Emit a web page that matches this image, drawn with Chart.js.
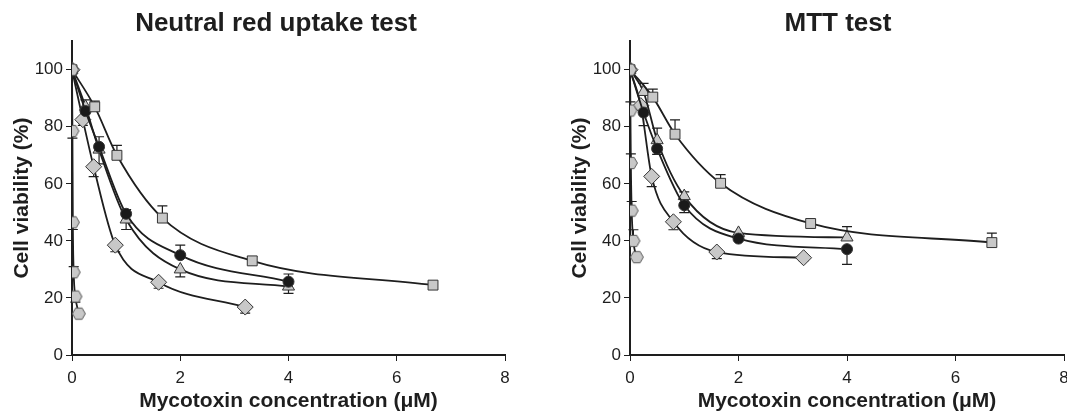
<!DOCTYPE html>
<html>
<head>
<meta charset="utf-8">
<script src="https://cdn.jsdelivr.net/npm/chart.js@4.4.1/dist/chart.umd.min.js"></script>
<style>
  html, body { margin: 0; padding: 0; background: #fff; overflow: hidden; }
  #page { position: relative; width: 1067px; height: 414px; overflow: hidden; }
  .box { position: absolute; top: 0; height: 414px; }
  #boxNR { left: 0; width: 552px; }
  #boxMTT { left: 558px; width: 560px; }
</style>
</head>
<body>
<div id="page">
  <div class="box" id="boxNR"><canvas id="chartNR" width="552" height="414"></canvas></div>
  <div class="box" id="boxMTT"><canvas id="chartMTT" width="560" height="414"></canvas></div>
</div>
<script>
// concentrations (µM) per mycotoxin
const hexConc = [0, 0.0078, 0.0156, 0.031, 0.0625, 0.125];
const sqConc = [0, 0.42, 0.83, 1.67, 3.33, 6.67];
const rdConc = [0, 0.25, 0.5, 1, 2, 4];
const dmConc = [0, 0.2, 0.4, 0.8, 1.6, 3.2];

// Neutral red uptake test, viability (%) and error (+ up, - down)
const nrHex = [100, 78.5, 46.5, 29, 20.5, 14.5];
const nrHexErr = [0, -2.5, -2.5, 2, -2, 0];
const nrSq = [100, 87, 70, 48, 33, 24.5];
const nrSqErr = [0, 2, 3.5, 4.3, 1.5, 0];
const nrCirc = [100, 85.5, 73, 49.5, 35, 25.7];
const nrCircErr = [0, 0, 3.5, 1.5, 3.5, 2.7];
const nrTri = [100, 87, 72, 47.5, 30, 24];
const nrTriErr = [0, 2.4, -5, -3.5, -2.6, -2.4];
const nrDia = [100, 82.5, 66, 38.5, 25.5, 16.8];
const nrDiaErr = [0, -2, -3.5, -2.3, -2.1, -2.1];

// MTT test
const mtHex = [100, 85.7, 67.3, 50.6, 40, 34.3];
const mtHexErr = [0, 3, 3.2, 3.2, 3.9, 0];
const mtSq = [100, 90.4, 77.4, 60.2, 46.1, 39.4];
const mtSqErr = [0, 2.8, 5, 3, 0, 3.3];
const mtCirc = [100, 85, 72.3, 52.5, 40.8, 37.1];
const mtCircErr = [0, -4.6, -2, -2.6, 0, -5.3];
const mtTri = [100, 92.2, 75.3, 55.7, 42.8, 41.2];
const mtTriErr = [0, 3, 4.2, 1.5, 0, 3.8];
const mtDia = [100, 87.4, 62.6, 46.7, 36.1, 34.1];
const mtDiaErr = [0, 0, -3.6, -2.8, -2.3, -1];

const yTicks = [0, 20, 40, 60, 80, 100];

Chart.defaults.font.family = "'Liberation Sans', Arial, sans-serif";
Chart.defaults.color = '#222';

const ink = '#1e1e1e';
const markFill = '#c8c8c8';

// hexagon marker (flat top)
function hexagon(r) {
    const c = document.createElement('canvas');
    const s = Math.ceil(2 * r + 3);
    c.width = s; c.height = s;
    const g = c.getContext('2d');
    g.beginPath();
    for (let k = 0; k < 6; k++) {
        const a = Math.PI / 3 * k;
        const px = s / 2 + r * Math.cos(a), py = s / 2 + r * Math.sin(a);
        if (k === 0) g.moveTo(px, py); else g.lineTo(px, py);
    }
    g.closePath();
    g.fillStyle = markFill;
    g.fill();
    g.strokeStyle = '#555';
    g.lineWidth = 1;
    g.stroke();
    return c;
}
const hexMark = hexagon(6.5);

// error bars drawn under the curves and markers
const errorBars = {
    id: 'errorBars',
    beforeDatasetsDraw(chart) {
        const ctx = chart.ctx, ys = chart.scales.y;
        chart.data.datasets.forEach((ds, i) => {
            if (!ds.errors) return;
            const meta = chart.getDatasetMeta(i);
            ctx.save();
            ctx.strokeStyle = ink;
            ctx.lineWidth = 1.2;
            meta.data.forEach((pt, j) => {
                const e = ds.errors[j];
                if (!e) return;
                const y1 = ys.getPixelForValue(ds.data[j].y + e);
                ctx.beginPath();
                ctx.moveTo(pt.x, pt.y);
                ctx.lineTo(pt.x, y1);
                ctx.moveTo(pt.x - 5, y1);
                ctx.lineTo(pt.x + 5, y1);
                ctx.stroke();
            });
            ctx.restore();
        });
    }
};

function series(xs, ys, errs, style, fill, radius) {
    return {
        data: xs.map((x, i) => ({ x: x, y: ys[i] })),
        errors: errs,
        borderColor: ink,
        borderWidth: 1.8,
        cubicInterpolationMode: 'monotone',
        pointStyle: style,
        pointRadius: radius,
        pointBackgroundColor: fill,
        pointBorderColor: '#333',
        pointBorderWidth: 1,
        fill: false
    };
}

function makeChart(id, title, plotLeft, rightPad, sets) {
    return new Chart(document.getElementById(id), {
        type: 'line',
        data: { datasets: sets },
        plugins: [errorBars],
        options: {
            responsive: false,
            animation: false,
            layout: { padding: 0 },
            plugins: {
                legend: { display: false },
                tooltip: { enabled: false },
                title: {
                    display: true,
                    text: title,
                    color: ink,
                    font: { size: 26, weight: 'bold' },
                    padding: { top: 8, bottom: 2 }
                }
            },
            scales: {
                x: {
                    type: 'linear',
                    min: 0, max: 8,
                    ticks: { stepSize: 2, font: { size: 17 }, color: ink, padding: 7 },
                    grid: { drawOnChartArea: false, drawTicks: true, tickLength: 6, color: ink },
                    border: { display: true, color: ink, width: 2 },
                    title: {
                        display: true,
                        text: 'Mycotoxin concentration (μM)',
                        color: ink,
                        font: { size: 21, weight: 'bold' },
                        padding: { top: 0, bottom: 0 }
                    },
                    afterFit: s => { s.height = 59; }
                },
                y: {
                    min: 0, max: 110,
                    ticks: { stepSize: 20, font: { size: 17 }, color: ink, padding: 3 },
                    afterBuildTicks: s => { s.ticks = yTicks.map(v => ({ value: v })); },
                    grid: { drawOnChartArea: false, drawTicks: true, tickLength: 6, color: ink },
                    border: { display: true, color: ink, width: 2 },
                    title: {
                        display: true,
                        text: 'Cell viability (%)',
                        color: ink,
                        font: { size: 21, weight: 'bold' },
                        padding: { top: 10, bottom: 0 }
                    },
                    afterFit: s => { s.width = plotLeft; }
                },
                spare: {
                    type: 'linear',
                    axis: 'y',
                    position: 'right',
                    min: 0, max: 1,
                    ticks: { display: false },
                    grid: { display: false },
                    border: { display: false },
                    afterFit: s => { s.width = rightPad; }
                }
            }
        }
    });
}

makeChart('chartNR', 'Neutral red uptake test', 72, 47, [
    series(hexConc, nrHex, nrHexErr, hexMark, markFill, 6),
    series(sqConc, nrSq, nrSqErr, 'rect', markFill, 7),
    series(rdConc, nrCirc, nrCircErr, 'circle', '#1a1a1a', 5.5),
    series(rdConc, nrTri, nrTriErr, 'triangle', markFill, 7),
    series(dmConc, nrDia, nrDiaErr, 'rectRot', markFill, 8)
]);

makeChart('chartMTT', 'MTT test', 72, 54, [
    series(hexConc, mtHex, mtHexErr, hexMark, markFill, 6),
    series(sqConc, mtSq, mtSqErr, 'rect', markFill, 7),
    series(rdConc, mtCirc, mtCircErr, 'circle', '#1a1a1a', 5.5),
    series(rdConc, mtTri, mtTriErr, 'triangle', markFill, 7),
    series(dmConc, mtDia, mtDiaErr, 'rectRot', markFill, 8)
]);
</script>
</body>
</html>
